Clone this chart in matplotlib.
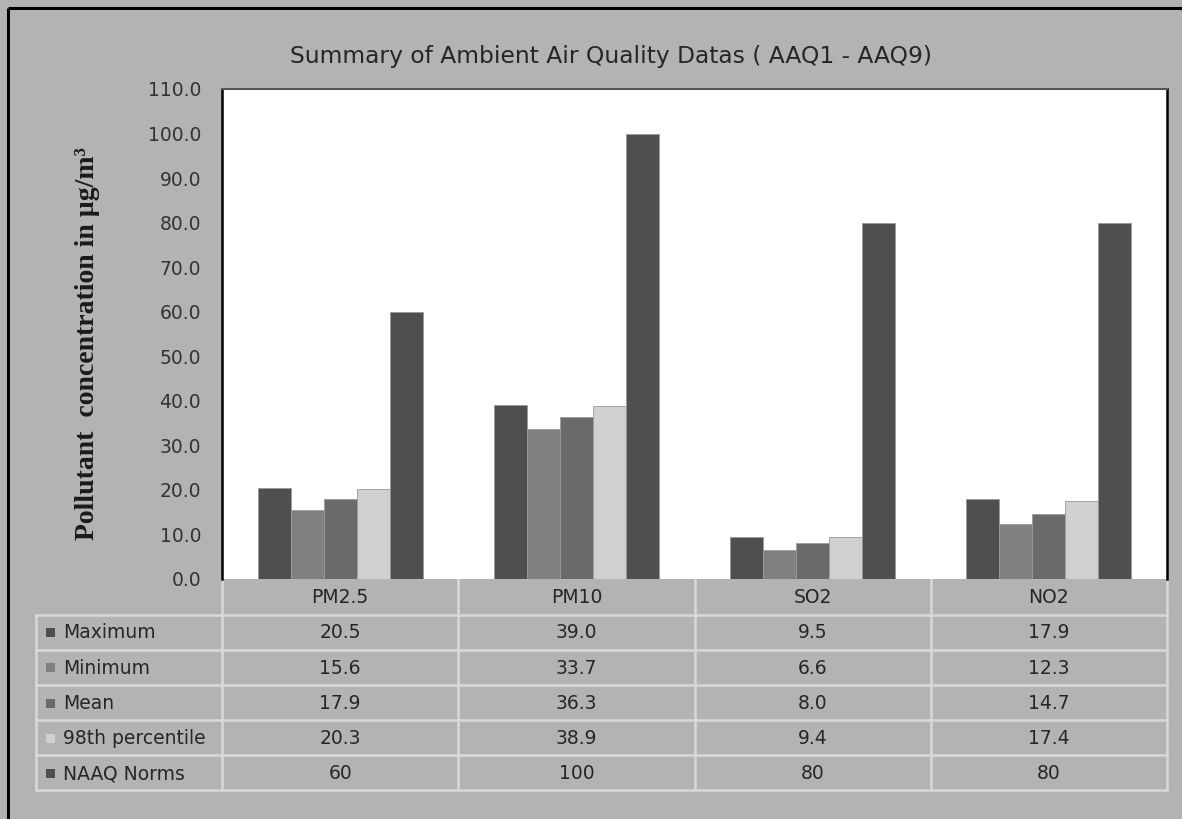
import matplotlib
matplotlib.use("Agg")
import matplotlib.pyplot as plt
import numpy as np

categories = ["PM2.5", "PM10", "SO2", "NO2"]
series_names = ["Maximum", "Minimum", "Mean", "98th percentile", "NAAQ Norms"]
maximum = [20.5, 39.0, 9.5, 17.9]
minimum = [15.6, 33.7, 6.6, 12.3]
mean = [17.9, 36.3, 8.0, 14.7]
pct98 = [20.3, 38.9, 9.4, 17.4]
naaq = [60, 100, 80, 80]
table_text = [
    ["20.5", "39.0", "9.5", "17.9"],
    ["15.6", "33.7", "6.6", "12.3"],
    ["17.9", "36.3", "8.0", "14.7"],
    ["20.3", "38.9", "9.4", "17.4"],
    ["60", "100", "80", "80"],
]
title = "Summary of Ambient Air Quality Datas ( AAQ1 - AAQ9)"
ylabel = "Pollutant  concentration in µg/m³"
yticks = np.arange(0, 111, 10)

colors = ["#4f4f4f", "#808080", "#6a6a6a", "#d0d0d0", "#4f4f4f"]
series = [maximum, minimum, mean, pct98, naaq]
bg = "#b3b3b3"
grid_c = "#d9d9d9"
txt_c = "#262626"

W, H = 1182, 819
fig = plt.figure(figsize=(W / 100, H / 100), dpi=100)
fig.patch.set_facecolor(bg)

bgax = fig.add_axes([0, 0, 1, 1])
bgax.set_xlim(0, W)
bgax.set_ylim(H, 0)
bgax.axis("off")
bgax.plot([8, 8], [8, H + 5], color="black", lw=2.2, solid_capstyle="butt")
bgax.plot([8, W + 5], [8, 8], color="black", lw=2.2, solid_capstyle="butt")

bgax.text(611, 56, title, ha="center", va="center", fontsize=16.8,
          family="DejaVu Sans", color=txt_c)
bgax.text(88, 344, ylabel, ha="center", va="center", rotation=90,
          fontsize=20, family="Liberation Serif", fontweight="bold", color="#1a1a1a")

L, R, T, B = 222, 1167, 89, 579
ax = fig.add_axes([L / W, (H - B) / H, (R - L) / W, (B - T) / H])
ax.set_facecolor("white")
x = np.arange(len(categories))
bw = 0.1397
for i, (vals, c) in enumerate(zip(series, colors)):
    ax.bar(x + (i - 2) * bw, vals, width=bw, color=c, edgecolor="#9a9a9a",
           linewidth=0.6, label=series_names[i])
ax.set_xlim(-0.5, len(categories) - 0.5)
ax.set_ylim(0, 110)
ax.set_yticks(yticks)
ax.set_yticklabels([f"{v:.1f}" for v in yticks], fontsize=13.5, color="#333333")
ax.tick_params(axis="y", length=0, pad=15)
ax.set_xticks([])
ax.spines["bottom"].set_visible(False)
ax.spines["left"].set_color("black")
ax.spines["left"].set_linewidth(1.8)
ax.spines["right"].set_color("black")
ax.spines["right"].set_linewidth(1.8)
ax.spines["top"].set_color("#555555")
ax.spines["top"].set_linewidth(1.5)

col_edges = np.linspace(L, R, len(categories) + 1)
row_edges = [579, 614.5, 649.5, 685, 720, 755, 790]
tl = 36
lw = 1.8
for j, y in enumerate(row_edges):
    if j == 0:
        continue
    bgax.plot([tl, R], [y, y], color=grid_c, lw=lw)
bgax.plot([tl, tl], [row_edges[1], row_edges[-1]], color=grid_c, lw=lw)
for k, xe in enumerate(col_edges):
    bgax.plot([xe, xe], [row_edges[0], row_edges[-1]], color=grid_c, lw=lw)
fs = 13.5
for k, cat in enumerate(categories):
    cx = (col_edges[k] + col_edges[k + 1]) / 2
    bgax.text(cx, (row_edges[0] + row_edges[1]) / 2 + 1, cat, ha="center",
              va="center", fontsize=fs, color=txt_c)
for r, name in enumerate(series_names):
    cy = (row_edges[r + 1] + row_edges[r + 2]) / 2 + 1
    bgax.add_patch(plt.Rectangle((46, cy - 5), 9, 9, color=colors[r], lw=0))
    bgax.text(63, cy, name, ha="left", va="center", fontsize=fs, color=txt_c)
    for k in range(len(categories)):
        cx = (col_edges[k] + col_edges[k + 1]) / 2
        bgax.text(cx, cy, table_text[r][k], ha="center", va="center",
                  fontsize=fs, color=txt_c)

fig.savefig("out.png", dpi=100, facecolor=bg)
